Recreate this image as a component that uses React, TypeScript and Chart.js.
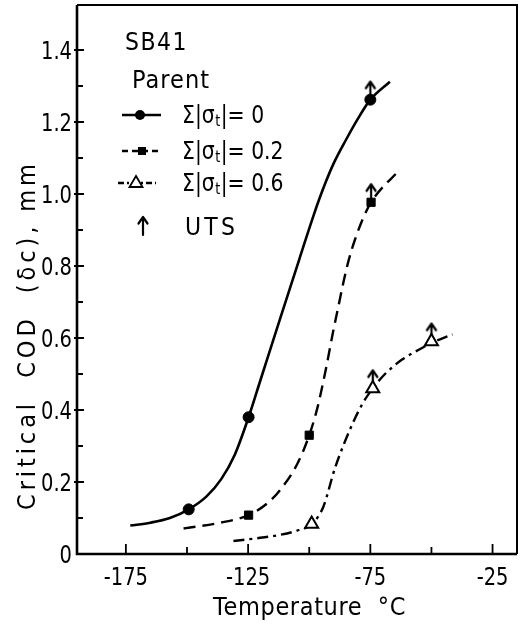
import React, { useEffect, useRef } from "react";
import { Chart, registerables } from "chart.js";

Chart.register(...registerables);

// ---------- data ----------
const xMajorTicks = [-175, -125, -75, -25];
const xMinorTicks = [-150, -100, -50];
const yMajorTicks = [0, 0.2, 0.4, 0.6, 0.8, 1.0, 1.2, 1.4];
const yMinorTicks = [0.1, 0.3, 0.5, 0.7, 0.9, 1.1, 1.3];
const yTickLabels = ["0", "0.2", "0.4", "0.6", "0.8", "1.0", "1.2", "1.4"];
const xTickLabels = ["-175", "-125", "-75", "-25"];

// fitted curves
const curve0X = [-173.2, -165, -157, -149.3, -142, -136, -130.5, -124.8, -120, -112, -104, -98, -94, -90, -85, -80, -75, -67];
const curve0Y = [0.079, 0.087, 0.1, 0.124, 0.16, 0.208, 0.275, 0.38, 0.482, 0.652, 0.82, 0.945, 1.02, 1.085, 1.15, 1.21, 1.262, 1.312];

const curve1X = [-151.4, -136.4, -124.8, -117.3, -111.9, -104.9, -100, -96.5, -93, -90.1, -88, -86, -83.9, -81.2, -77.8, -74.7, -62.8];
const curve1Y = [0.071, 0.087, 0.108, 0.14, 0.178, 0.25, 0.33, 0.41, 0.52, 0.622, 0.69, 0.755, 0.815, 0.875, 0.935, 0.977, 1.069];

const curve2X = [-131, -120, -112, -105, -99, -94.3, -89.4, -82.4, -78, -74, -69, -62, -55, -50, -41.4];
const curve2Y = [0.036, 0.045, 0.053, 0.065, 0.083, 0.13, 0.24, 0.36, 0.42, 0.46, 0.5, 0.54, 0.568, 0.586, 0.61];

// measured points
const pts0X = [-149.3, -124.8, -75];
const pts0Y = [0.124, 0.38, 1.262];
const pts1X = [-124.8, -100, -74.7];
const pts1Y = [0.108, 0.33, 0.977];
const pts2X = [-99, -74, -50];
const pts2Y = [0.083, 0.46, 0.59];

// UTS arrows
const utsX = [-75, -74.7, -74, -50];
const utsY = [1.262, 0.977, 0.46, 0.59];

const legendLabels = ["0", "0.2", "0.6"];

const FONT = '"DejaVu Sans", "Liberation Sans", sans-serif';

const toXY = (xs: number[], ys: number[]) => xs.map((x, i) => ({ x, y: ys[i] }));

function makeArrow(): HTMLCanvasElement {
  const c = document.createElement("canvas");
  c.width = 14;
  c.height = 44;
  const g = c.getContext("2d")!;
  g.strokeStyle = "#000";
  g.lineWidth = 2.2;
  g.lineCap = "round";
  g.lineJoin = "round";
  g.beginPath();
  g.moveTo(7, 22);
  g.lineTo(7, 6);
  g.stroke();
  g.beginPath();
  g.moveTo(2.5, 10.5);
  g.lineTo(7, 4);
  g.lineTo(11.5, 10.5);
  g.stroke();
  return c;
}

// draws horizontally condensed text; optional target width via letter spacing
function drawText(
  ctx: CanvasRenderingContext2D,
  text: string,
  x: number,
  y: number,
  size: number,
  align: CanvasTextAlign,
  hscale: number,
  width?: number
) {
  const anyCtx = ctx as any;
  ctx.save();
  ctx.font = `${size}px ${FONT}`;
  ctx.textBaseline = "alphabetic";
  ctx.textAlign = align;
  anyCtx.letterSpacing = "0px";
  if (width) {
    const w = ctx.measureText(text).width;
    const ls = (width / hscale - w) / Math.max(1, text.length);
    anyCtx.letterSpacing = ls.toFixed(2) + "px";
  }
  ctx.translate(x, y);
  ctx.scale(hscale, 1);
  ctx.fillText(text, 0, 0);
  const out = ctx.measureText(text).width * hscale;
  ctx.restore();
  return out;
}

export default function App() {
  const ref = useRef<HTMLCanvasElement | null>(null);

  useEffect(() => {
    if (!ref.current) return;
    document.body.style.margin = "0";
    const arrow = makeArrow();

    const framePlugin = {
      id: "frameAndText",
      afterDraw(chart: any) {
        const { ctx, chartArea: a, scales } = chart;
        const xs = scales.x;
        const ys = scales.y;
        ctx.save();
        ctx.strokeStyle = "#000";
        ctx.fillStyle = "#000";
        ctx.setLineDash([]);
        // frame
        ctx.lineWidth = 2.6;
        ctx.beginPath();
        ctx.moveTo(a.left, a.top);
        ctx.lineTo(a.left, a.bottom);
        ctx.lineTo(a.right, a.bottom);
        ctx.stroke();
        ctx.lineWidth = 2;
        ctx.beginPath();
        ctx.moveTo(a.left, a.top);
        ctx.lineTo(a.right, a.top);
        ctx.lineTo(a.right, a.bottom);
        ctx.stroke();
        // ticks (inward)
        ctx.lineWidth = 1.8;
        ctx.beginPath();
        xMajorTicks.forEach((v) => {
          const px = xs.getPixelForValue(v);
          ctx.moveTo(px, a.bottom);
          ctx.lineTo(px, a.bottom - 10);
        });
        xMinorTicks.forEach((v) => {
          const px = xs.getPixelForValue(v);
          ctx.moveTo(px, a.bottom);
          ctx.lineTo(px, a.bottom - 7);
        });
        yMajorTicks.forEach((v) => {
          if (v === 0) return;
          const py = ys.getPixelForValue(v);
          ctx.moveTo(a.left - 3, py);
          ctx.lineTo(a.left + 7, py);
        });
        yMinorTicks.forEach((v) => {
          const py = ys.getPixelForValue(v);
          ctx.moveTo(a.left, py);
          ctx.lineTo(a.left + 6, py);
        });
        ctx.stroke();

        // tick labels
        xMajorTicks.forEach((v, i) => {
          drawText(ctx, xTickLabels[i], xs.getPixelForValue(v), a.bottom + 31, 25, "center", 0.78);
        });
        yMajorTicks.forEach((v, i) => {
          drawText(ctx, yTickLabels[i], a.left - 5, ys.getPixelForValue(v) + 9, 25, "right", 0.78);
        });

        // axis titles
        drawText(ctx, "Temperature  °C", 213, 615, 25, "left", 0.9, 193);
        ctx.save();
        ctx.translate(35, 510);
        ctx.rotate(-Math.PI / 2);
        drawText(ctx, "Critical  COD  (δc), mm", 0, 0, 25, "left", 0.9, 350);
        ctx.restore();

        // legend block
        drawText(ctx, "SB41", 125, 50, 25, "left", 0.88, 63);
        drawText(ctx, "Parent", 132, 88, 25, "left", 0.9, 78);

        const rowY = [115, 151, 183];
        const rowBase = [123, 159, 191];
        const dashes = [[], [6, 4], [6, 3, 2, 3]];
        ctx.lineWidth = 2.4;
        rowY.forEach((yy, i) => {
          ctx.setLineDash(dashes[i]);
          ctx.beginPath();
          ctx.moveTo(i === 2 ? 118 : 122, yy);
          ctx.lineTo(i === 2 ? 156 : 161, yy);
          ctx.stroke();
        });
        ctx.setLineDash([]);
        // markers
        ctx.beginPath();
        ctx.arc(140, rowY[0], 5, 0, Math.PI * 2);
        ctx.fill();
        ctx.fillRect(138, rowY[1] - 4, 8, 8);
        ctx.beginPath();
        ctx.moveTo(136, rowY[2] - 7);
        ctx.lineTo(142.5, rowY[2] + 4);
        ctx.lineTo(129.5, rowY[2] + 4);
        ctx.closePath();
        ctx.fillStyle = "#fff";
        ctx.fill();
        ctx.lineWidth = 1.8;
        ctx.stroke();
        ctx.fillStyle = "#000";

        // row texts: Σ|σt|= value
        rowBase.forEach((b, i) => {
          let x = 182;
          x += drawText(ctx, "Σ|σ", x, b, 24, "left", 0.85) + 0.5;
          x += drawText(ctx, "t", x, b + 3, 15, "left", 0.85) + 0.5;
          drawText(ctx, "|= " + legendLabels[i], x, b, 24, "left", 0.85);
        });

        // UTS entry
        ctx.drawImage(arrow, 136, 213);
        drawText(ctx, "UTS", 185, 235, 25, "left", 0.88, 53);
        ctx.restore();
      },
    };

    const chart = new Chart(ref.current, {
      type: "scatter",
      data: {
        datasets: [
          {
            label: "circles",
            data: toXY(pts0X, pts0Y),
            pointStyle: "circle",
            pointRadius: 5.5,
            backgroundColor: "#000",
            borderColor: "#000",
            borderWidth: 1,
            showLine: false,
            order: 0,
          },
          {
            label: "squares",
            data: toXY(pts1X, pts1Y),
            pointStyle: "rect",
            pointRadius: 5.8,
            backgroundColor: "#000",
            borderColor: "#000",
            borderWidth: 1,
            showLine: false,
            order: 0,
          },
          {
            label: "triangles",
            data: toXY(pts2X, pts2Y),
            pointStyle: "triangle",
            pointRadius: 7.5,
            backgroundColor: "#fff",
            borderColor: "#000",
            borderWidth: 2,
            showLine: false,
            order: 0,
          },
          {
            label: "UTS",
            data: toXY(utsX, utsY),
            pointStyle: arrow as any,
            pointRadius: 10,
            showLine: false,
            order: 1,
          },
          {
            label: "Σ|σt|= 0",
            data: toXY(curve0X, curve0Y),
            showLine: true,
            borderColor: "#000",
            borderWidth: 2.6,
            pointRadius: 0,
            cubicInterpolationMode: "monotone",
            order: 2,
          },
          {
            label: "Σ|σt|= 0.2",
            data: toXY(curve1X, curve1Y),
            showLine: true,
            borderColor: "#000",
            borderWidth: 2.4,
            borderDash: [12, 7],
            pointRadius: 0,
            cubicInterpolationMode: "monotone",
            order: 2,
          },
          {
            label: "Σ|σt|= 0.6",
            data: toXY(curve2X, curve2Y),
            showLine: true,
            borderColor: "#000",
            borderWidth: 2.4,
            borderDash: [11, 5, 3, 5],
            pointRadius: 0,
            cubicInterpolationMode: "monotone",
            order: 2,
          },
        ],
      },
      options: {
        responsive: false,
        animation: false,
        devicePixelRatio: 1,
        layout: { autoPadding: false, padding: { top: 5, right: 3, left: 0, bottom: 0 } },
        plugins: { legend: { display: false }, tooltip: { enabled: false } },
        scales: {
          x: {
            type: "linear",
            min: -195,
            max: -15,
            grid: { display: false, drawTicks: false },
            border: { display: false },
            afterBuildTicks: (s: any) => {
              s.ticks = xMajorTicks.map((v) => ({ value: v }));
            },
            afterFit: (s: any) => {
              s.height = 73;
            },
            ticks: { display: false },
          },
          y: {
            type: "linear",
            min: 0,
            max: 1.525,
            grid: { display: false, drawTicks: false },
            border: { display: false },
            afterBuildTicks: (s: any) => {
              s.ticks = yMajorTicks.map((v) => ({ value: v }));
            },
            afterFit: (s: any) => {
              s.width = 77;
            },
            ticks: { display: false },
          },
        },
      },
      plugins: [framePlugin],
    } as any);

    return () => chart.destroy();
  }, []);

  return (
    <div style={{ position: "absolute", left: 0, top: 0, width: 520, height: 627, background: "#fff" }}>
      <canvas ref={ref} width={520} height={627} style={{ display: "block" }} />
    </div>
  );
}
